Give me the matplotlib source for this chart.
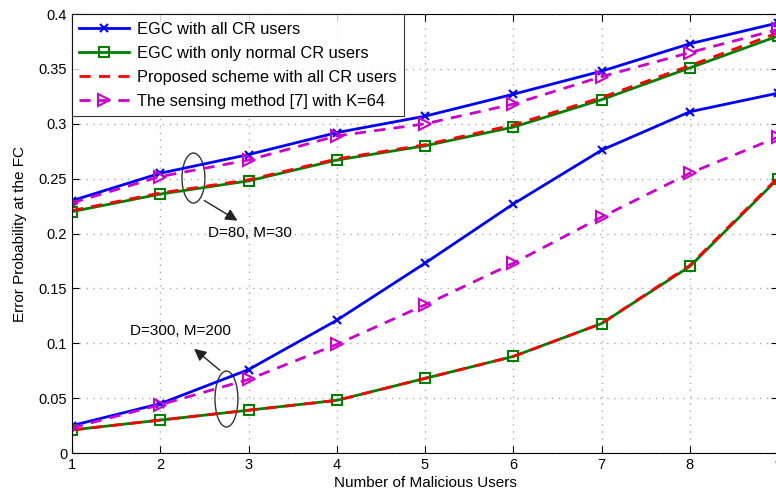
import matplotlib
matplotlib.use('Agg')
import matplotlib.pyplot as plt
from matplotlib.patches import Ellipse

plt.rcParams['font.family'] = ['Liberation Sans', 'DejaVu Sans']

users = [1, 2, 3, 4, 5, 6, 7, 8, 9]

# D=80, M=30
egc_all_80 = [0.230, 0.255, 0.272, 0.292, 0.307, 0.327, 0.348, 0.373, 0.392]
egc_norm_80 = [0.220, 0.236, 0.248, 0.267, 0.280, 0.297, 0.322, 0.351, 0.380]
proposed_80 = [0.221, 0.237, 0.249, 0.268, 0.281, 0.299, 0.324, 0.353, 0.383]
sensing_80 = [0.228, 0.252, 0.267, 0.289, 0.300, 0.318, 0.343, 0.365, 0.386]

# D=300, M=200
egc_all_300 = [0.025, 0.045, 0.076, 0.121, 0.173, 0.227, 0.276, 0.311, 0.328]
egc_norm_300 = [0.021, 0.030, 0.039, 0.048, 0.068, 0.088, 0.118, 0.170, 0.250]
proposed_300 = [0.021, 0.030, 0.039, 0.048, 0.068, 0.088, 0.118, 0.171, 0.251]
sensing_300 = [0.023, 0.044, 0.067, 0.099, 0.135, 0.173, 0.215, 0.255, 0.288]

fig = plt.figure(figsize=(7.76, 5.01), dpi=100)
ax = fig.add_axes([0.0928, 0.0958, 0.9098, 0.876])

for k, (a, b, c, d) in enumerate([(egc_all_80, egc_norm_80, proposed_80, sensing_80),
                                  (egc_all_300, egc_norm_300, proposed_300, sensing_300)]):
    ax.plot(users, a, color='#0000ff', lw=2, marker='x', ms=5.5, mew=1.5,
            label='EGC with all CR users' if k == 0 else None)
    ax.plot(users, b, color='#008000', lw=2, marker='s', ms=6.5, mfc='none', mew=1.5,
            label='EGC with only normal CR users' if k == 0 else None)
    ax.plot(users, c, color='#ff0000', lw=2, ls=(0, (4, 3)),
            label='Proposed scheme with all CR users' if k == 0 else None)
    ax.plot(users, d, color='#cc00cc', lw=2, ls=(0, (4, 3)), marker='>', ms=9,
            mfc='none', mew=1.5,
            label='The sensing method [7] with K=64' if k == 0 else None)

ax.set_xlim(1, 9)
ax.set_ylim(0, 0.4)
ax.set_xticks(users)
ax.set_yticks([0, 0.05, 0.1, 0.15, 0.2, 0.25, 0.3, 0.35, 0.4])
ax.set_yticklabels(['0', '0.05', '0.1', '0.15', '0.2', '0.25', '0.3', '0.35', '0.4'])
ax.tick_params(direction='in', top=True, right=True, labelsize=10.5, length=5)
ax.grid(True, ls=(0, (1, 4)), color='#aaaaaa', lw=1)
ax.set_xlabel('Number of Malicious Users', fontsize=11, labelpad=3)
ax.set_ylabel('Error Probability at the FC', fontsize=11, labelpad=8)

# annotations
ax.add_patch(Ellipse((2.376, 0.2506), 0.26, 0.0456, fill=False, ec='#333333', lw=1))
ax.annotate('', xy=(2.903, 0.2105), xytext=(2.472, 0.2314),
            arrowprops=dict(arrowstyle='-|>', color='#222222', lw=1, mutation_scale=18))
ax.text(3.016, 0.2005, 'D=80, M=30', ha='center', va='center', fontsize=11)

ax.add_patch(Ellipse((2.75, 0.0492), 0.26, 0.051, fill=False, ec='#333333', lw=1))
ax.annotate('', xy=(2.359, 0.0966), xytext=(2.699, 0.0738),
            arrowprops=dict(arrowstyle='-|>', color='#222222', lw=1, mutation_scale=18))
ax.text(2.234, 0.1112, 'D=300, M=200', ha='center', va='center', fontsize=11)

leg = ax.legend(loc='upper left', fontsize=11.8, fancybox=False, edgecolor='black',
                borderaxespad=0, handlelength=3.0, handletextpad=0.5,
                labelspacing=0.55, borderpad=0.45)
leg.get_frame().set_linewidth(0.8)

fig.savefig('out.png', dpi=100)
